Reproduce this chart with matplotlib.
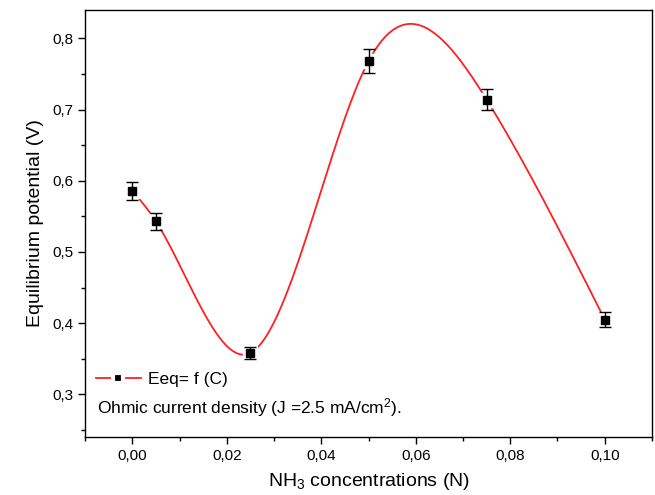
import numpy as np
import matplotlib
matplotlib.use('Agg')
import matplotlib.pyplot as plt
from matplotlib.ticker import MultipleLocator, FuncFormatter

plt.rcParams['font.family'] = ['Liberation Sans', 'DejaVu Sans']
plt.rcParams['mathtext.fontset'] = 'custom'
plt.rcParams['mathtext.rm'] = 'Liberation Sans'
plt.rcParams['mathtext.it'] = 'Liberation Sans:italic'

# data
conc = [0.000, 0.005, 0.025, 0.050, 0.075, 0.100]
eeq = [0.586, 0.543, 0.358, 0.768, 0.714, 0.405]
err = [0.013, 0.012, 0.008, 0.017, 0.015, 0.010]

RED = '#ff2020'


def natural_spline(x, y, n=400):
    # smooth connecting line through the points, like Origin's spline line
    x = np.asarray(x, float)
    y = np.asarray(y, float)
    k = len(x)
    h = np.diff(x)
    a = np.zeros((k, k))
    b = np.zeros(k)
    a[0, 0] = a[-1, -1] = 1
    for i in range(1, k - 1):
        a[i, i - 1] = h[i - 1]
        a[i, i] = 2 * (h[i - 1] + h[i])
        a[i, i + 1] = h[i]
        b[i] = 6 * ((y[i + 1] - y[i]) / h[i] - (y[i] - y[i - 1]) / h[i - 1])
    m = np.linalg.solve(a, b)
    xs = np.linspace(x[0], x[-1], n)
    idx = np.clip(np.searchsorted(x, xs) - 1, 0, k - 2)
    x0, x1 = x[idx], x[idx + 1]
    hh = x1 - x0
    t0, t1 = x1 - xs, xs - x0
    ys = (m[idx] * t0 ** 3 + m[idx + 1] * t1 ** 3) / (6 * hh) \
        + (y[idx] / hh - m[idx] * hh / 6) * t0 \
        + (y[idx + 1] / hh - m[idx + 1] * hh / 6) * t1
    return xs, ys


fig = plt.figure(figsize=(6.55, 4.95), dpi=100)
ax = fig.add_axes([0.1298, 0.1172, 0.8656, 0.8626])

xs, ys = natural_spline(conc, eeq)
ax.plot(xs, ys, color=RED, lw=1.3, zorder=2)
# white pad under the markers, so the red line stops short of them
ax.plot(conc, eeq, 's', color='white', ms=9.5, zorder=2.5)
ax.errorbar(conc, eeq, yerr=err, fmt='s', color='black', ms=6,
            ecolor='black', elinewidth=1, capsize=4, capthick=1, zorder=3)

ax.set_xlim(-0.01, 0.11)
ax.set_ylim(0.24, 0.84)
ax.xaxis.set_major_locator(MultipleLocator(0.02))
ax.xaxis.set_minor_locator(MultipleLocator(0.01))
ax.yaxis.set_major_locator(MultipleLocator(0.1))
ax.yaxis.set_minor_locator(MultipleLocator(0.05))
ax.xaxis.set_major_formatter(FuncFormatter(lambda v, p: '{:.2f}'.format(v).replace('.', ',')))
ax.yaxis.set_major_formatter(FuncFormatter(lambda v, p: '{:.1f}'.format(v).replace('.', ',')))
ax.tick_params(which='both', direction='out', top=False, right=False, labelsize=11, width=1)
ax.tick_params(which='major', length=5)
ax.tick_params(which='minor', length=3)
for s in ax.spines.values():
    s.set_linewidth(1)

ax.set_xlabel('NH$_3$ concentrations (N)', fontsize=14, labelpad=6)
ax.set_ylabel('Equilibrium potential (V)', fontsize=14, labelpad=6)

h, = ax.plot([], [], color=RED, lw=1.3, marker='s', ms=7.5,
             mfc='black', mec='white', mew=3)
ax.legend([h], ['Eeq= f (C)'], loc='center left', bbox_to_anchor=(0.019, 0.135),
          frameon=False, fontsize=12.5, borderpad=0, borderaxespad=0,
          handlelength=2.6, handletextpad=0.4)
ax.text(0.021, 0.068, 'Ohmic current density (J =2.5 mA/cm$^2$).',
        transform=ax.transAxes, fontsize=12.5, va='center', ha='left')

fig.savefig('out.png', dpi=100)
